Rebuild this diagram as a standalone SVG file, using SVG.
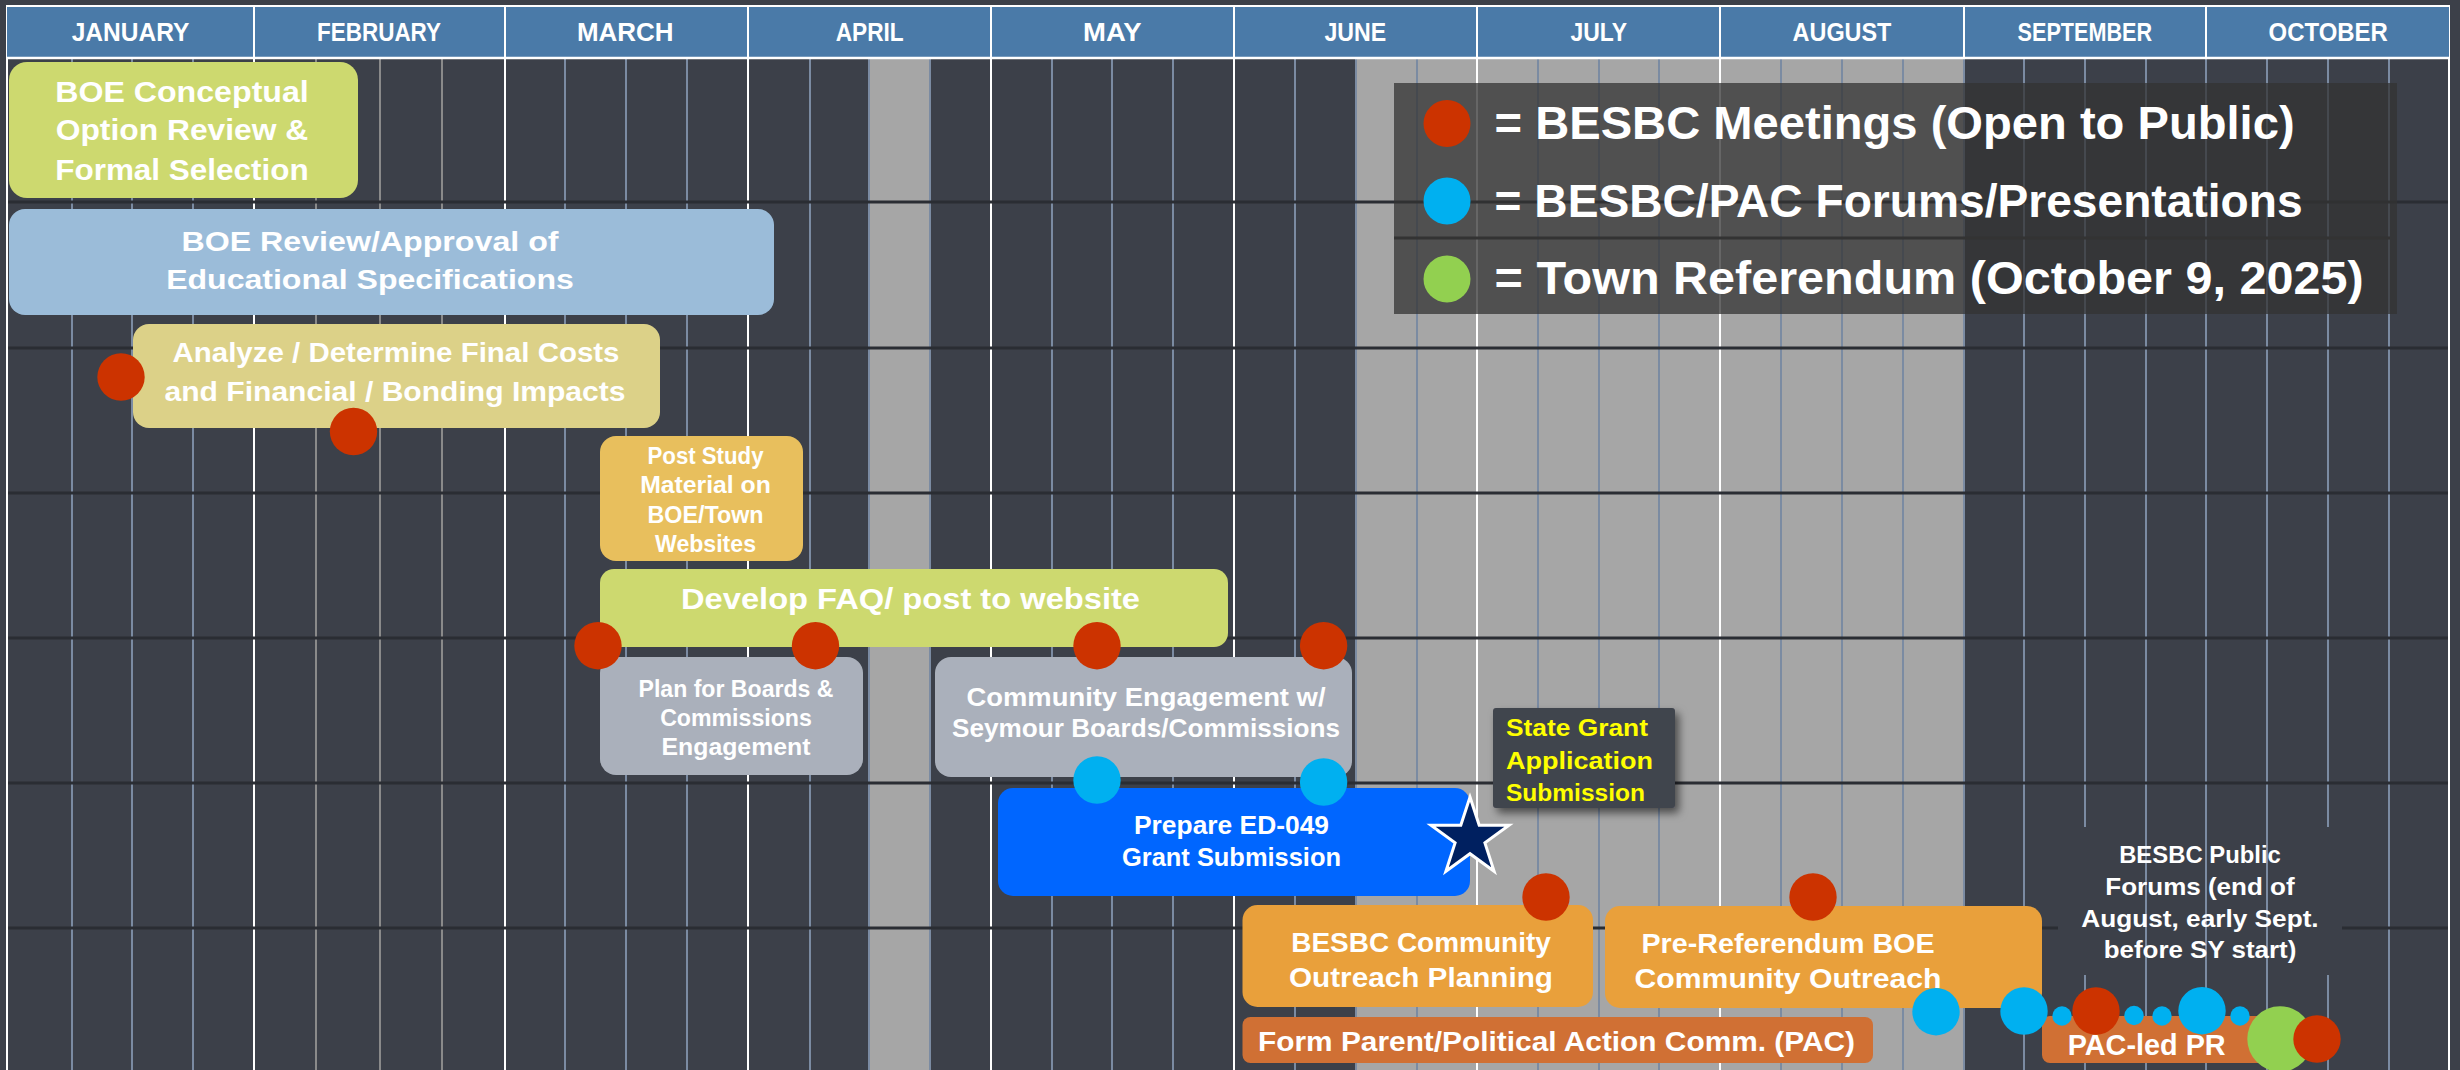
<svg xmlns="http://www.w3.org/2000/svg" width="2460" height="1070" viewBox="0 0 2460 1070">
<defs>
<style>
.bg{fill:#3c4049}
.gray{fill:#a6a6a6}
.wk{stroke:#7b8ba2;stroke-width:2}
.wkg{stroke:#8a8a8a;stroke-width:2}
.mo{stroke:#ffffff;stroke-width:2}
.row{stroke:#2a2d33;stroke-width:3}
.t{font-family:'Liberation Sans',Arial,Helvetica,sans-serif;font-weight:700;fill:#ffffff;text-anchor:middle}
.ts{font-family:'Liberation Sans',Arial,Helvetica,sans-serif;font-weight:700;fill:#ffffff;text-anchor:start}
.y{fill:#ffff00}
.red{fill:#cc3300}
.blue{fill:#00b0f0}
.green{fill:#92d050}
</style>
<filter id="sh" x="-10%" y="-10%" width="130%" height="140%">
<feDropShadow dx="4" dy="5" stdDeviation="4" flood-color="#000000" flood-opacity="0.55"/>
</filter>
</defs>

<g id="grid">
<rect class="bg" x="0" y="0" width="2460" height="1070"/>
<rect class="gray" x="869" y="59" width="61" height="1011"/>
<rect class="gray" x="1356" y="59" width="608" height="1011"/>
<g class="wk">
<line x1="72" y1="59" x2="72" y2="1070"/><line x1="132" y1="59" x2="132" y2="1070"/><line x1="193" y1="59" x2="193" y2="1070"/>
<line x1="565" y1="59" x2="565" y2="1070"/><line x1="626" y1="59" x2="626" y2="1070"/><line x1="687" y1="59" x2="687" y2="1070"/>
<line x1="810" y1="59" x2="810" y2="1070"/><line x1="869" y1="59" x2="869" y2="1070"/><line x1="930" y1="59" x2="930" y2="1070"/>
<line x1="1052" y1="59" x2="1052" y2="1070"/><line x1="1112" y1="59" x2="1112" y2="1070"/><line x1="1173" y1="59" x2="1173" y2="1070"/>
<line x1="1295" y1="59" x2="1295" y2="1070"/><line x1="1356" y1="59" x2="1356" y2="1070"/><line x1="1417" y1="59" x2="1417" y2="1070"/>
<line x1="1538" y1="59" x2="1538" y2="1070"/><line x1="1599" y1="59" x2="1599" y2="1070"/><line x1="1659" y1="59" x2="1659" y2="1070"/>
<line x1="1781" y1="59" x2="1781" y2="1070"/><line x1="1842" y1="59" x2="1842" y2="1070"/><line x1="1903" y1="59" x2="1903" y2="1070"/>
<line x1="1964" y1="59" x2="1964" y2="1070"/>
<line x1="2024" y1="59" x2="2024" y2="1070"/><line x1="2085" y1="59" x2="2085" y2="1070"/><line x1="2146" y1="59" x2="2146" y2="1070"/>
<line x1="2206" y1="59" x2="2206" y2="1070"/>
<line x1="2267" y1="59" x2="2267" y2="1070"/><line x1="2328" y1="59" x2="2328" y2="1070"/><line x1="2389" y1="59" x2="2389" y2="1070"/>
</g>
<g class="wkg">
<line x1="316" y1="59" x2="316" y2="1070"/><line x1="380" y1="59" x2="380" y2="1070"/><line x1="442" y1="59" x2="442" y2="1070"/>
</g>
<g class="mo">
<line x1="7" y1="5" x2="7" y2="1070"/>
<line x1="254" y1="59" x2="254" y2="1070"/><line x1="505" y1="59" x2="505" y2="1070"/><line x1="748" y1="59" x2="748" y2="1070"/>
<line x1="991" y1="59" x2="991" y2="1070"/><line x1="1234" y1="59" x2="1234" y2="1070"/><line x1="1477" y1="59" x2="1477" y2="1070"/>
<line x1="1720" y1="59" x2="1720" y2="1070"/>
<line x1="2449" y1="5" x2="2449" y2="1070"/>
</g>
<g class="row">
<line x1="8" y1="202" x2="2448" y2="202"/><line x1="8" y1="348" x2="2448" y2="348"/>
<line x1="8" y1="493" x2="2448" y2="493"/><line x1="8" y1="638" x2="2448" y2="638"/>
<line x1="8" y1="783" x2="2448" y2="783"/><line x1="8" y1="928" x2="2448" y2="928"/>
</g>
</g>

<g id="header">
<rect x="7" y="6" width="2442" height="52" fill="#4a7aa8"/>
<line x1="6" y1="6" x2="2450" y2="6" stroke="#ffffff" stroke-width="2"/>
<line x1="6" y1="58" x2="2450" y2="58" stroke="#ffffff" stroke-width="2.5"/>
<g class="mo">
<line x1="254" y1="6" x2="254" y2="58"/><line x1="505" y1="6" x2="505" y2="58"/><line x1="748" y1="6" x2="748" y2="58"/>
<line x1="991" y1="6" x2="991" y2="58"/><line x1="1234" y1="6" x2="1234" y2="58"/><line x1="1477" y1="6" x2="1477" y2="58"/>
<line x1="1720" y1="6" x2="1720" y2="58"/><line x1="1964" y1="6" x2="1964" y2="58"/><line x1="2206" y1="6" x2="2206" y2="58"/>
</g>
<g class="t" font-size="26">
<text x="130.5" y="41" textLength="117.7" lengthAdjust="spacingAndGlyphs">JANUARY</text>
<text x="379" y="41" textLength="124" lengthAdjust="spacingAndGlyphs">FEBRUARY</text>
<text x="625.3" y="41" textLength="96.6" lengthAdjust="spacingAndGlyphs">MARCH</text>
<text x="869.7" y="41" textLength="68" lengthAdjust="spacingAndGlyphs">APRIL</text>
<text x="1112.3" y="41" textLength="58.6" lengthAdjust="spacingAndGlyphs">MAY</text>
<text x="1355.3" y="41" textLength="61.7" lengthAdjust="spacingAndGlyphs">JUNE</text>
<text x="1598.7" y="41" textLength="56.5" lengthAdjust="spacingAndGlyphs">JULY</text>
<text x="1842" y="41" textLength="98.8" lengthAdjust="spacingAndGlyphs">AUGUST</text>
<text x="2084.8" y="41" textLength="134.4" lengthAdjust="spacingAndGlyphs">SEPTEMBER</text>
<text x="2328.2" y="41" textLength="119.2" lengthAdjust="spacingAndGlyphs">OCTOBER</text>
</g>
</g>

<g id="legend">
<rect x="1394" y="83" width="1003" height="231" fill="#333333" opacity="0.75"/>
<line x1="1394" y1="238" x2="2390" y2="238" stroke="#333333" stroke-width="3"/>
<circle class="red" cx="1447" cy="123.5" r="23.5"/>
<circle class="blue" cx="1447" cy="201" r="23.5"/>
<circle class="green" cx="1447" cy="279" r="23.5"/>
<g class="ts" font-size="46">
<text x="1494.6" y="139" textLength="800" lengthAdjust="spacingAndGlyphs">= BESBC Meetings (Open to Public)</text>
<text x="1494.6" y="217" textLength="808" lengthAdjust="spacingAndGlyphs">= BESBC/PAC Forums/Presentations</text>
<text x="1494.6" y="294" textLength="869" lengthAdjust="spacingAndGlyphs">= Town Referendum (October 9, 2025)</text>
</g>
</g>

<g id="boe-conceptual">
<rect x="9" y="62" width="349" height="136" rx="18" fill="#cdd96f"/>
<g class="t" font-size="29">
<text x="182" y="101.7" textLength="253.6" lengthAdjust="spacingAndGlyphs">BOE Conceptual</text>
<text x="182" y="140" textLength="252.6" lengthAdjust="spacingAndGlyphs">Option Review &amp;</text>
<text x="182" y="180" textLength="253.6" lengthAdjust="spacingAndGlyphs">Formal Selection</text>
</g>
</g>

<g id="boe-review">
<rect x="9" y="209" width="765" height="106" rx="16" fill="#9bbcd9"/>
<g class="t" font-size="28">
<text x="370" y="250.7" textLength="377" lengthAdjust="spacingAndGlyphs">BOE Review/Approval of</text>
<text x="370" y="289.3" textLength="407.7" lengthAdjust="spacingAndGlyphs">Educational Specifications</text>
</g>
</g>

<g id="analyze-costs">
<rect x="133" y="324" width="527" height="104" rx="16" fill="#dcd188"/>
<g class="t" font-size="27">
<text x="396" y="362" textLength="447" lengthAdjust="spacingAndGlyphs">Analyze / Determine Final Costs</text>
<text x="395" y="400.7" textLength="461" lengthAdjust="spacingAndGlyphs">and Financial / Bonding Impacts</text>
</g>
</g>

<g id="post-study">
<rect x="600" y="436" width="203" height="125" rx="16" fill="#e8bf5d"/>
<g class="t" font-size="23">
<text x="705.5" y="464" textLength="116" lengthAdjust="spacingAndGlyphs">Post Study</text>
<text x="705.5" y="493.3" textLength="130.7" lengthAdjust="spacingAndGlyphs">Material on</text>
<text x="705.5" y="522.7" textLength="116" lengthAdjust="spacingAndGlyphs">BOE/Town</text>
<text x="705.5" y="551.7" textLength="101" lengthAdjust="spacingAndGlyphs">Websites</text>
</g>
</g>

<g id="develop-faq">
<rect x="600" y="569" width="628" height="78" rx="14" fill="#cdd96f"/>
<text class="t" font-size="29" x="910.5" y="609" textLength="459" lengthAdjust="spacingAndGlyphs">Develop FAQ/ post to website</text>
</g>

<g id="plan-boards">
<rect x="600" y="657" width="263" height="118" rx="16" fill="#aab0bb"/>
<g class="t" font-size="23">
<text x="736" y="697" textLength="195" lengthAdjust="spacingAndGlyphs">Plan for Boards &amp;</text>
<text x="736" y="726" textLength="151.7" lengthAdjust="spacingAndGlyphs">Commissions</text>
<text x="736" y="755" textLength="149" lengthAdjust="spacingAndGlyphs">Engagement</text>
</g>
</g>

<g id="community-engagement">
<rect x="935" y="657" width="417" height="120" rx="16" fill="#aab0bb"/>
<g class="t" font-size="25">
<text x="1146" y="706" textLength="359" lengthAdjust="spacingAndGlyphs">Community Engagement w/</text>
<text x="1146" y="737" textLength="388" lengthAdjust="spacingAndGlyphs">Seymour Boards/Commissions</text>
</g>
</g>

<g id="ed049">
<rect x="998" y="788" width="472" height="108" rx="15" fill="#0066ff"/>
<g class="t" font-size="25">
<text x="1231.5" y="834" textLength="195" lengthAdjust="spacingAndGlyphs">Prepare ED-049</text>
<text x="1231.5" y="866" textLength="219" lengthAdjust="spacingAndGlyphs">Grant Submission</text>
</g>
</g>

<g id="state-grant">
<rect x="1493" y="708" width="182" height="100" rx="3" fill="#41454e" filter="url(#sh)"/>
<g class="ts y" font-size="23">
<text x="1506" y="736" textLength="142" lengthAdjust="spacingAndGlyphs">State Grant</text>
<text x="1506" y="768.5" textLength="147" lengthAdjust="spacingAndGlyphs">Application</text>
<text x="1506" y="801" textLength="139" lengthAdjust="spacingAndGlyphs">Submission</text>
</g>
</g>

<g id="grant-star">
<polygon points="1470,797 1479.2,825.3 1509,825.3 1484.9,842.9 1494.1,871.2 1470,853.7 1445.9,871.2 1455.1,842.9 1431,825.3 1460.8,825.3" fill="#002060" stroke="#ffffff" stroke-width="3" stroke-linejoin="miter"/>
</g>

<g id="besbc-outreach-planning">
<rect x="1242.5" y="905" width="350.5" height="102" rx="15" fill="#e9a03b"/>
<g class="t" font-size="27">
<text x="1421" y="952" textLength="259.6" lengthAdjust="spacingAndGlyphs">BESBC Community</text>
<text x="1421" y="987" textLength="264" lengthAdjust="spacingAndGlyphs">Outreach Planning</text>
</g>
</g>

<g id="pre-referendum">
<rect x="1605" y="906" width="437" height="102" rx="15" fill="#e9a03b"/>
<g class="t" font-size="28">
<text x="1788" y="953" textLength="293" lengthAdjust="spacingAndGlyphs">Pre-Referendum BOE</text>
<text x="1788" y="988" textLength="307" lengthAdjust="spacingAndGlyphs">Community Outreach</text>
</g>
</g>

<g id="form-pac">
<rect x="1242.5" y="1017" width="630.5" height="46" rx="8" fill="#d07034"/>
<text class="t" font-size="27" x="1556.5" y="1051" textLength="597" lengthAdjust="spacingAndGlyphs">Form Parent/Political Action Comm. (PAC)</text>
</g>

<g id="besbc-public-forums">
<rect x="2058" y="827" width="284" height="148" class="bg"/>
<g class="wk">
<line x1="2146" y1="827" x2="2146" y2="975"/><line x1="2206" y1="827" x2="2206" y2="975"/><line x1="2267" y1="827" x2="2267" y2="975"/>
</g>
<g class="t" font-size="24.5">
<text x="2200" y="862.7" textLength="161.7" lengthAdjust="spacingAndGlyphs">BESBC Public</text>
<text x="2200" y="894.5" textLength="189.3" lengthAdjust="spacingAndGlyphs">Forums (end of</text>
<text x="2200" y="926.7" textLength="237.3" lengthAdjust="spacingAndGlyphs">August, early Sept.</text>
<text x="2200" y="958" textLength="192.7" lengthAdjust="spacingAndGlyphs">before SY start)</text>
</g>
</g>

<g id="pac-led-pr">
<rect x="2042" y="1016" width="230" height="47" rx="8" fill="#d07034"/>
<text class="t" font-size="29" x="2146.7" y="1055" textLength="158" lengthAdjust="spacingAndGlyphs">PAC-led PR</text>
</g>

<g id="connectors"></g>

<g id="meetings">
<circle class="red" cx="121" cy="377" r="23.7"/>
<circle class="red" cx="353.5" cy="431.5" r="23.7"/>
<circle class="red" cx="598" cy="645.7" r="23.7"/>
<circle class="red" cx="815.5" cy="645.7" r="23.7"/>
<circle class="red" cx="1097" cy="645.7" r="23.7"/>
<circle class="red" cx="1323.6" cy="645.7" r="23.7"/>
<circle class="red" cx="1546" cy="897" r="23.7"/>
<circle class="red" cx="1813" cy="897" r="23.7"/>
</g>

<g id="forums">
<circle class="blue" cx="1097" cy="780" r="23.7"/>
<circle class="blue" cx="1323.6" cy="782" r="23.7"/>
<circle class="blue" cx="1936" cy="1011.7" r="23.7"/>
<circle class="blue" cx="2024" cy="1011" r="23.7"/>
<circle class="blue" cx="2062" cy="1016" r="9.7"/>
<circle class="red" cx="2096" cy="1011" r="23.7"/>
<circle class="blue" cx="2134" cy="1015.5" r="9.7"/>
<circle class="blue" cx="2162" cy="1016" r="9.7"/>
<circle class="blue" cx="2202" cy="1010.7" r="23.7"/>
<circle class="blue" cx="2240" cy="1016" r="9.7"/>
</g>

<g id="referendum">
<circle class="green" cx="2280" cy="1039" r="32.7"/>
<circle class="red" cx="2317" cy="1039" r="23.7"/>
</g>
</svg>
